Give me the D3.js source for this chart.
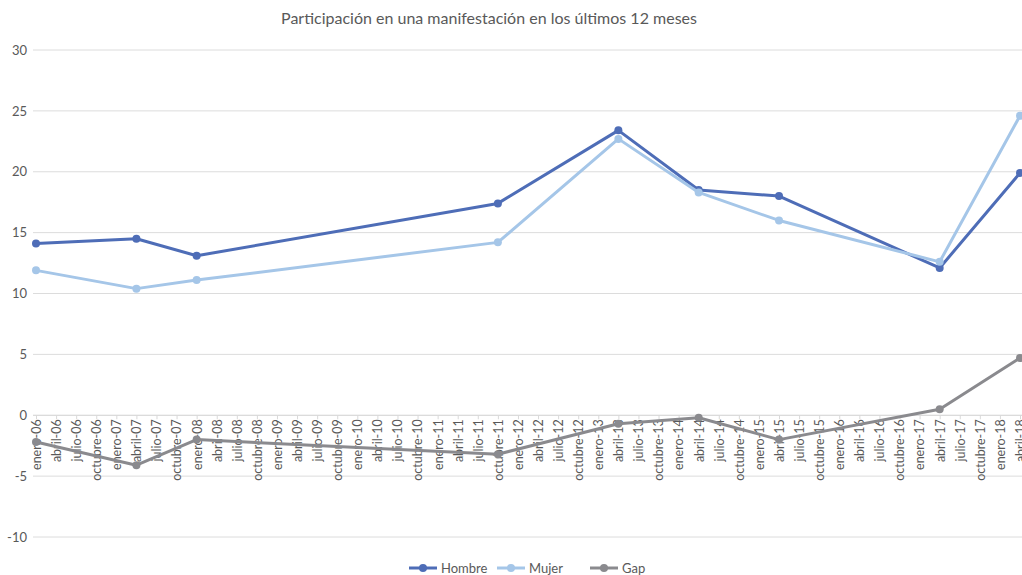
<!DOCTYPE html>
<html>
<head>
<meta charset="utf-8">
<script src="https://cdn.jsdelivr.net/npm/d3@7"></script>
<style>
  html, body { margin: 0; padding: 0; background: #fff; }
  svg { display: block; font-family: Lato, "Open Sans", sans-serif; }
</style>
</head>
<body>
<svg id="chart" width="1022" height="575"></svg>
<script>
// Quarterly category labels
const months = ["enero", "abril", "julio", "octubre"];
const years = ["06", "07", "08", "09", "10", "11", "12", "13", "14", "15", "16", "17", "18"];
const categories = [];
years.forEach(y => months.forEach(m => categories.push(m + "-" + y)));
categories.splice(50); // enero-06 … abril-18

// Survey waves (category labels) and values per series
const waves = ["enero-06", "abril-07", "enero-08", "octubre-11", "abril-13", "abril-14", "abril-15", "abril-17", "abril-18"];
const hombre = [14.1, 14.5, 13.1, 17.4, 23.4, 18.5, 18.0, 12.1, 19.9];
const mujer  = [11.9, 10.4, 11.1, 14.2, 22.7, 18.3, 16.0, 12.6, 24.6];
const gap    = [-2.2, -4.1, -2.0, -3.2, -0.7, -0.2, -2.0, 0.5, 4.7];

const yTicks = [-10, -5, 0, 5, 10, 15, 20, 25, 30];

const seriesList = [
  { name: "Hombre", values: hombre, color: "#4e6db7" },
  { name: "Mujer",  values: mujer,  color: "#a5c6e8" },
  { name: "Gap",    values: gap,    color: "#8a8a8e" }
];

const svg = d3.select("#chart");

const x = d3.scalePoint().domain(categories).range([36, 1020]);
const y = d3.scaleLinear().domain([-10, 30]).range([537, 50]);

// Title
svg.append("text")
  .attr("x", 489).attr("y", 24)
  .attr("text-anchor", "middle")
  .attr("font-size", 16)
  .attr("fill", "#595959")
  .text("Participación en una manifestación en los últimos 12 meses");

// Horizontal gridlines
svg.append("g")
  .selectAll("line")
  .data(yTicks)
  .join("line")
  .attr("x1", 33).attr("x2", 1022)
  .attr("y1", d => y(d)).attr("y2", d => y(d))
  .attr("stroke", d => d === 0 ? "#cfcfcf" : "#dcdcdc")
  .attr("stroke-width", 1);

// Y axis labels (plain hyphen for negatives)
const yAxis = d3.axisLeft(y).tickValues(yTicks).tickFormat(d => String(d)).tickSize(0).tickPadding(0);
const gy = svg.append("g").attr("transform", "translate(27,0)").call(yAxis);
gy.select(".domain").remove();
gy.selectAll("text")
  .attr("font-size", 13)
  .attr("fill", "#595959")
  .attr("font-family", "Lato, sans-serif");

// Category ticks and rotated labels on the zero line
const xAxis = d3.axisBottom(x).tickSize(4).tickPadding(3);
const gx = svg.append("g").attr("transform", `translate(0,${y(0)})`).call(xAxis);
gx.select(".domain").remove();
gx.selectAll(".tick line").attr("stroke", "#d9d9d9");
gx.selectAll("text")
  .attr("transform", "rotate(-90)")
  .attr("text-anchor", "end")
  .attr("x", -4).attr("y", 0).attr("dy", "0.35em")
  .attr("font-size", 12.5)
  .attr("fill", "#595959")
  .attr("font-family", "Lato, sans-serif");

// Series lines and markers
const line = d3.line()
  .x(d => x(d.cat))
  .y(d => y(d.v));

seriesList.forEach(s => {
  const pts = waves.map((c, i) => ({ cat: c, v: s.values[i] }));
  const g = svg.append("g");
  g.append("path")
    .datum(pts)
    .attr("d", line)
    .attr("fill", "none")
    .attr("stroke", s.color)
    .attr("stroke-width", 3)
    .attr("stroke-linejoin", "round");
  g.selectAll("circle")
    .data(pts)
    .join("circle")
    .attr("cx", d => x(d.cat))
    .attr("cy", d => y(d.v))
    .attr("r", 4)
    .attr("fill", s.color);
});

// Legend
const legendX = [409, 497, 590];
const legend = svg.append("g");
seriesList.forEach((s, i) => {
  const lg = legend.append("g").attr("transform", `translate(${legendX[i]},568)`);
  lg.append("line").attr("x1", 0).attr("x2", 28).attr("y1", 0).attr("y2", 0)
    .attr("stroke", s.color).attr("stroke-width", 3);
  lg.append("circle").attr("cx", 14).attr("cy", 0).attr("r", 4).attr("fill", s.color);
  lg.append("text").attr("x", 32).attr("y", 0).attr("dy", "0.35em")
    .attr("font-size", 13).attr("fill", "#595959")
    .text(s.name);
});
</script>
</body>
</html>
